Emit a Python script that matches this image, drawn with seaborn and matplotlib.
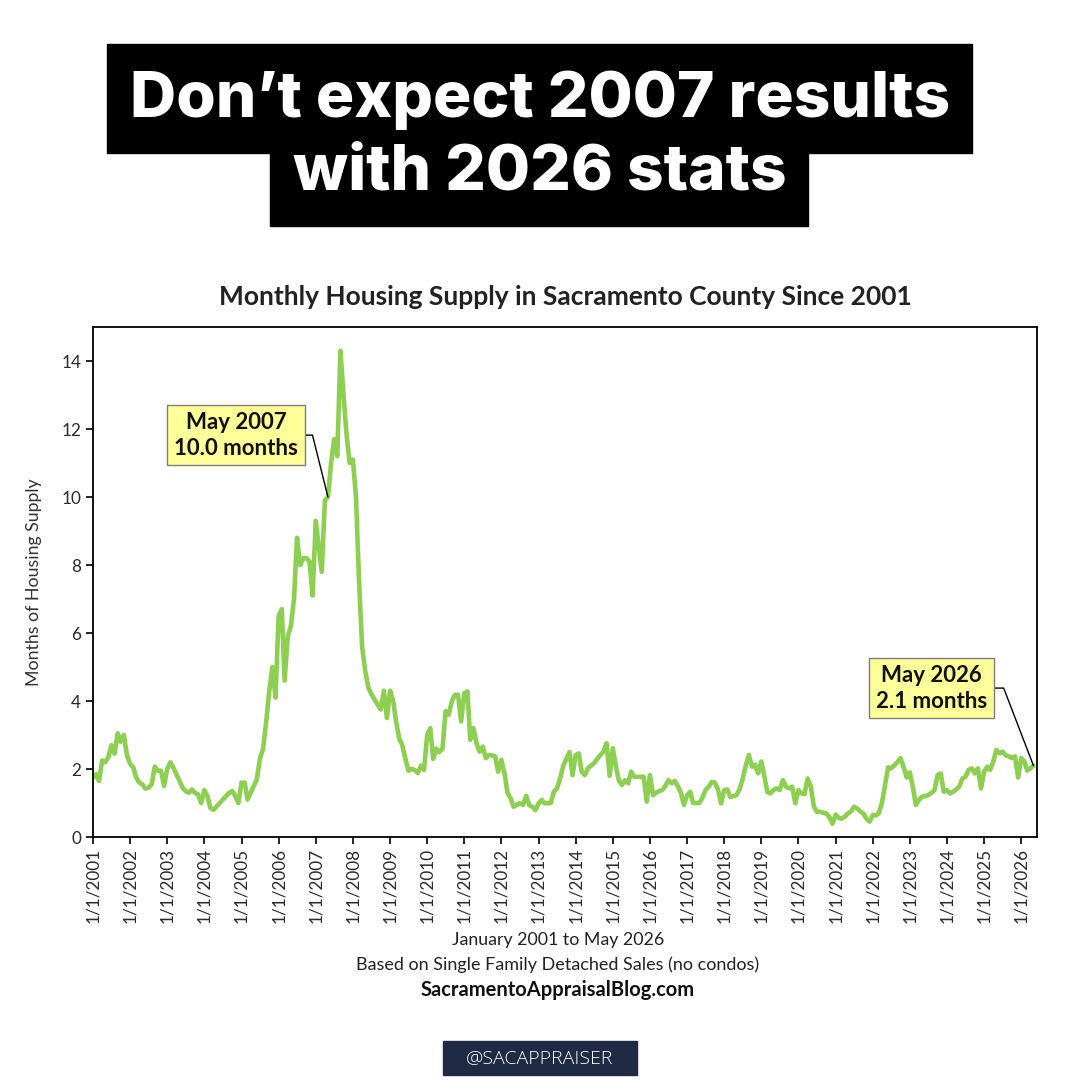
import pandas as pd
import numpy as np
import seaborn as sns
import matplotlib.pyplot as plt
from matplotlib.patches import Rectangle

# Months of housing supply, one list per year (Jan..Dec)
y2001 = [1.75, 1.85, 1.65, 2.25, 2.2, 2.35, 2.7, 2.45, 3.05, 2.8, 3.0, 2.4]
y2002 = [2.15, 2.05, 1.75, 1.6, 1.55, 1.42, 1.45, 1.55, 2.07, 1.95, 1.95, 1.5]
y2003 = [2.0, 2.2, 2.05, 1.85, 1.65, 1.45, 1.35, 1.3, 1.4, 1.3, 1.25, 1.0]
y2004 = [1.38, 1.2, 0.85, 0.8, 0.9, 1.0, 1.1, 1.2, 1.3, 1.35, 1.2, 1.0]
y2005 = [1.6, 1.6, 1.1, 1.3, 1.5, 1.7, 2.3, 2.6, 3.4, 4.3, 5.0, 4.1]
y2006 = [6.5, 6.7, 4.6, 5.9, 6.2, 7.0, 8.8, 8.0, 8.2, 8.2, 8.1, 7.1]
y2007 = [9.3, 8.5, 7.8, 9.9, 10.0, 11.0, 11.7, 11.2, 14.3, 13.0, 11.8, 11.0]
y2008 = [11.1, 10.0, 7.6, 5.6, 4.9, 4.4, 4.2, 4.05, 3.9, 3.75, 4.3, 3.5]
y2009 = [4.3, 4.0, 3.4, 2.9, 2.7, 2.3, 1.95, 2.0, 1.97, 1.88, 2.1, 1.97]
y2010 = [3.0, 3.2, 2.3, 2.6, 2.5, 2.6, 3.7, 3.6, 4.0, 4.18, 4.18, 3.4]
y2011 = [4.23, 4.28, 2.86, 3.2, 2.76, 2.51, 2.66, 2.32, 2.41, 2.4, 2.37, 1.92]
y2012 = [2.27, 1.87, 1.3, 1.14, 0.89, 0.95, 0.99, 0.94, 1.21, 0.94, 0.89, 0.79]
y2013 = [0.99, 1.09, 0.99, 0.99, 1.0, 1.33, 1.43, 1.72, 2.1, 2.3, 2.5, 1.82]
y2014 = [2.41, 2.46, 1.92, 1.82, 2.02, 2.1, 2.17, 2.3, 2.41, 2.51, 2.76, 1.8]
y2015 = [2.61, 2.07, 1.67, 1.53, 1.67, 1.58, 1.92, 1.77, 1.77, 1.77, 1.77, 1.04]
y2016 = [1.82, 1.23, 1.3, 1.35, 1.38, 1.5, 1.67, 1.58, 1.65, 1.5, 1.3, 0.94]
y2017 = [1.23, 1.33, 1.0, 1.0, 1.0, 1.15, 1.38, 1.48, 1.62, 1.6, 1.4, 0.99]
y2018 = [1.38, 1.4, 1.18, 1.2, 1.23, 1.4, 1.7, 2.1, 2.41, 2.07, 2.12, 1.87]
y2019 = [2.22, 1.77, 1.33, 1.28, 1.38, 1.43, 1.38, 1.67, 1.48, 1.43, 1.48, 0.99]
y2020 = [1.38, 1.28, 1.26, 1.72, 1.5, 0.9, 0.74, 0.74, 0.71, 0.69, 0.59, 0.39]
y2021 = [0.66, 0.56, 0.54, 0.6, 0.69, 0.75, 0.89, 0.84, 0.75, 0.69, 0.54, 0.45]
y2022 = [0.64, 0.64, 0.69, 1.0, 1.5, 2.05, 2.02, 2.1, 2.2, 2.32, 2.05, 1.75]
y2023 = [1.9, 1.45, 0.94, 1.09, 1.19, 1.2, 1.23, 1.3, 1.38, 1.82, 1.87, 1.33]
y2024 = [1.38, 1.28, 1.33, 1.4, 1.48, 1.72, 1.77, 1.97, 2.02, 1.87, 2.02, 1.43]
y2025 = [1.92, 2.07, 1.97, 2.22, 2.56, 2.46, 2.51, 2.4, 2.37, 2.32, 2.37, 1.75]
y2026 = [2.32, 2.22, 1.95, 2.02, 2.1]

supply = (y2001 + y2002 + y2003 + y2004 + y2005 + y2006 + y2007 + y2008 + y2009
          + y2010 + y2011 + y2012 + y2013 + y2014 + y2015 + y2016 + y2017 + y2018
          + y2019 + y2020 + y2021 + y2022 + y2023 + y2024 + y2025 + y2026)

tick_years = list(range(2001, 2027))
tick_labels = [f"1/1/{y}" for y in tick_years]
y_ticks = [0, 2, 4, 6, 8, 10, 12, 14]

callout_months = ["2007-05-01", "2026-05-01"]
callout_texts = ["May 2007\n10.0 months", "May 2026\n2.1 months"]

df = pd.DataFrame({
    "month": pd.date_range("2001-01-01", periods=len(supply), freq="MS"),
    "supply": supply,
})

sns.set_theme(style="white")
plt.rcParams["font.family"] = ["Lato", "DejaVu Sans"]

fig = plt.figure(figsize=(10.8, 10.8), dpi=100)
fig.patch.set_facecolor("white")

# headline with black blocks behind each line
fig.add_artist(Rectangle((107 / 1080, 1 - 153 / 1080), 865 / 1080, 109 / 1080,
                         transform=fig.transFigure, color="black", zorder=1))
fig.add_artist(Rectangle((270 / 1080, 1 - 226 / 1080), 538 / 1080, 74 / 1080,
                         transform=fig.transFigure, color="black", zorder=1))
fig.text(0.5, 1 - 100 / 1080, "Don\u2019t expect 2007 results", ha="center", va="center",
         color="white", fontsize=46, fontweight=800, family=["Inter", "DejaVu Sans"], zorder=2)
fig.text(0.5, 1 - 173 / 1080, "with 2026 stats", ha="center", va="center",
         color="white", fontsize=46, fontweight=800, family=["Inter", "DejaVu Sans"], zorder=2)

ax = fig.add_axes([93 / 1080, 1 - 837 / 1080, 944 / 1080, 510 / 1080])
sns.lineplot(data=df, x="month", y="supply", color="#8DCF50", linewidth=3.3, ax=ax)

ax.set_xlim(pd.Timestamp("2001-01-01"), pd.Timestamp("2026-06-05"))
ax.set_ylim(0, 15)
ax.set_xticks([pd.Timestamp(f"{y}-01-01") for y in tick_years])
ax.set_xticklabels(tick_labels, rotation=90)
ax.set_yticks(y_ticks)
ax.tick_params(axis="both", direction="out", length=5, width=1.2, color="black",
               labelsize=12.3, labelcolor="#2b2b2b", bottom=True, left=True)
ax.tick_params(axis="x", pad=3)
for s in ax.spines.values():
    s.set_color("black")
    s.set_linewidth(1.3)
ax.set_xlabel("")
ax.set_ylabel("Months of Housing Supply", fontsize=12.8, color="#333333", labelpad=14)
ax.set_title("Monthly Housing Supply in Sacramento County Since 2001",
             fontsize=19, fontweight="bold", color="#222222", pad=16)

# callouts
box_pos = [(0.1515, 0.788), (0.888, 0.292)]
leader_angle = [104, 111]
for m, txt, pos, ang in zip(callout_months, callout_texts, box_pos, leader_angle):
    val = df.loc[df["month"] == pd.Timestamp(m), "supply"].iloc[0]
    ax.annotate(txt, xy=(pd.Timestamp(m), val), xycoords="data",
                xytext=pos, textcoords="axes fraction",
                ha="center", va="center", fontsize=16, fontweight="bold",
                color="#111111", linespacing=1.3,
                bbox=dict(boxstyle="square,pad=0.3", facecolor="#FFFF99",
                          edgecolor="#7f7f7f", linewidth=1),
                arrowprops=dict(arrowstyle="-", color="black", lw=1,
                                connectionstyle=f"angle,angleA=0,angleB={ang},rad=0",
                                relpos=(1, 0.5), shrinkA=0, shrinkB=0))

# notes under the chart
fig.text(558 / 1080, 1 - 940 / 1080, "January 2001 to May 2026", ha="center", va="center",
         fontsize=12.8, color="#222222")
fig.text(558 / 1080, 1 - 965 / 1080, "Based on Single Family Detached Sales (no condos)",
         ha="center", va="center", fontsize=13, color="#222222")
fig.text(558 / 1080, 1 - 990 / 1080, "SacramentoAppraisalBlog.com", ha="center", va="center",
         fontsize=14.5, fontweight="bold", color="#111111")

# handle tag
fig.add_artist(Rectangle((443 / 1080, 1 - 1075 / 1080), 194 / 1080, 34 / 1080,
                         transform=fig.transFigure, color="#1f2a44", zorder=1))
fig.text(540 / 1080, 1 - 1058 / 1080, "@SACAPPRAISER", ha="center", va="center",
         fontsize=14, fontweight="light", color="white",
         family=["Open Sans", "DejaVu Sans"], zorder=2)

fig.savefig("out.png", dpi=100, facecolor="white")
